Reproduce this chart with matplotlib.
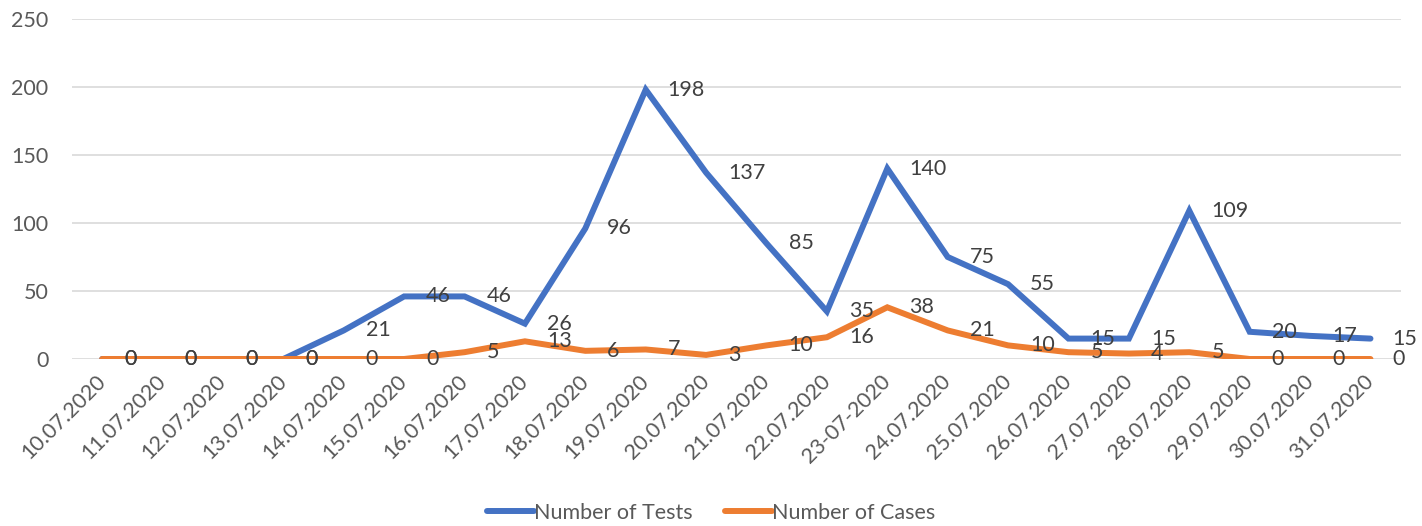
import matplotlib.pyplot as plt

dates = ['10.07.2020', '11.07.2020', '12.07.2020', '13.07.2020', '14.07.2020',
         '15.07.2020', '16.07.2020', '17.07.2020', '18.07.2020', '19.07.2020',
         '20.07.2020', '21.07.2020', '22.07.2020', '23-07-2020', '24.07.2020',
         '25.07.2020', '26.07.2020', '27.07.2020', '28.07.2020', '29.07.2020',
         '30.07.2020', '31.07.2020']
tests = [0, 0, 0, 0, 21, 46, 46, 26, 96, 198, 137, 85, 35, 140, 75, 55, 15, 15, 109, 20, 17, 15]
cases = [0, 0, 0, 0, 0, 0, 5, 13, 6, 7, 3, 10, 16, 38, 21, 10, 5, 4, 5, 0, 0, 0]

plt.rcParams['font.family'] = ['Lato', 'DejaVu Sans']
grey = '#595959'
fs = 15.5

fig = plt.figure(figsize=(14.22, 5.26), dpi=100)
ax = fig.add_axes([0.0506, 0.3175, 0.9344, 0.6465])

x = range(len(dates))
ax.plot(x, tests, color='#4472C4', lw=4.3, label='Number of Tests',
        solid_joinstyle='miter', solid_capstyle='round', zorder=3)
ax.plot(x, cases, color='#ED7D31', lw=4.3, label='Number of Cases',
        solid_joinstyle='miter', solid_capstyle='round', zorder=3)

# data labels to the right of each point
for xi, v in zip(x, tests):
    ax.annotate(str(v), (xi, v), xytext=(22, 0), textcoords='offset pixels',
                ha='left', va='center', fontsize=fs, color='#404040', zorder=4)
for xi, v in zip(x, cases):
    ax.annotate(str(v), (xi, v), xytext=(22, 0), textcoords='offset pixels',
                ha='left', va='center', fontsize=fs, color='#404040', zorder=4)

ax.set_xlim(-0.5, len(dates) - 0.5)
ax.set_ylim(0, 250)
ax.set_yticks(range(0, 251, 50))
ax.set_xticks(list(x))
ax.set_xticklabels(dates, rotation=45, ha='right', va='center', rotation_mode='anchor')
ax.tick_params(axis='x', length=0, pad=14, labelsize=fs, colors=grey)
ax.tick_params(axis='y', length=0, pad=17, labelsize=fs, colors=grey)
ax.grid(axis='y', color='#D9D9D9', lw=1.2)
ax.set_axisbelow(True)
for s in ax.spines.values():
    s.set_visible(False)

leg = fig.legend(loc='center', bbox_to_anchor=(0.5, 1 - 513 / 526), ncol=2, frameon=False,
                 fontsize=fs, handlelength=2.2, handletextpad=0.0, columnspacing=1.5)
for t in leg.get_texts():
    t.set_color(grey)

fig.savefig('out.png', dpi=100)
